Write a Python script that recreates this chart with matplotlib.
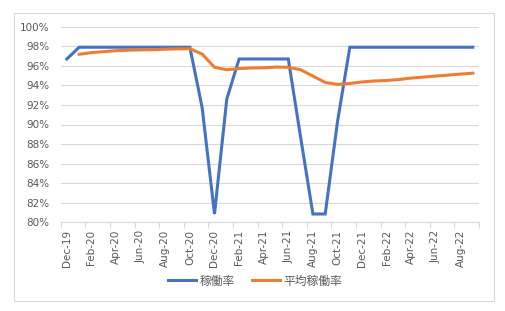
import matplotlib
matplotlib.use("Agg")
import matplotlib.pyplot as plt
import numpy as np
from matplotlib.patches import Rectangle

months = ["Dec-19", "Jan-20", "Feb-20", "Mar-20", "Apr-20", "May-20", "Jun-20", "Jul-20",
          "Aug-20", "Sep-20", "Oct-20", "Nov-20", "Dec-20", "Jan-21", "Feb-21", "Mar-21",
          "Apr-21", "May-21", "Jun-21", "Jul-21", "Aug-21", "Sep-21", "Oct-21", "Nov-21",
          "Dec-21", "Jan-22", "Feb-22", "Mar-22", "Apr-22", "May-22", "Jun-22", "Jul-22",
          "Aug-22", "Sep-22"]

rate = [96.7, 97.9, 97.9, 97.9, 97.9, 97.9, 97.9, 97.9, 97.9, 97.9, 97.9,
        91.7, 80.85, 92.6, 96.7, 96.7, 96.7, 96.7, 96.7, 88.7, 80.85, 80.85,
        90.3, 97.9, 97.9, 97.9, 97.9, 97.9, 97.9, 97.9, 97.9, 97.9, 97.9, 97.9]

avg_rate = [np.nan, 97.18, 97.35, 97.45, 97.55, 97.6, 97.63, 97.65, 97.7, 97.73, 97.75,
            97.2, 95.85, 95.6, 95.72, 95.78, 95.8, 95.87, 95.85, 95.6, 94.95, 94.3,
            94.1, 94.2, 94.35, 94.45, 94.5, 94.6, 94.75, 94.85, 94.95, 95.05, 95.15, 95.25]

series_names = ["稼働率", "平均稼働率"]

plt.rcParams['font.family'] = ['Noto Sans CJK JP', 'DejaVu Sans']

W, H = 505, 311
fig = plt.figure(figsize=(W / 100, H / 100), dpi=100)
fig.patches.append(Rectangle((14 / W, 1 - 301 / H), 480 / W, 288 / H, transform=fig.transFigure,
                             fill=False, edgecolor="#D9D9D9", linewidth=0.8))

ax = fig.add_axes([60.7 / W, 1 - 222.3 / H, (479 - 60.7) / W, (222.3 - 26.7) / H])

x = np.arange(len(months))
ax.plot(x, np.array(rate) / 100, color="#4472C4", linewidth=2.2, label=series_names[0],
        solid_joinstyle="miter", zorder=3)
ax.plot(x, np.array(avg_rate) / 100, color="#ED7D31", linewidth=2.2, label=series_names[1],
        solid_joinstyle="round", zorder=3)

ax.set_xlim(-0.5, len(months) - 0.5)
ax.set_ylim(0.80, 1.00)

yt = np.arange(80, 101, 2)
ax.set_yticks(yt / 100)
ax.set_yticklabels([f"{v}%" for v in yt])
ax.tick_params(axis="y", length=0, pad=8, labelsize=7.5, labelcolor="#595959")

ax.set_xticks(np.arange(-0.5, len(months), 2))
ax.set_xticklabels([])
ax.tick_params(axis="x", which="major", length=4, width=0.8, color="#D9D9D9", direction="out")
ax.set_xticks(x[::2], minor=True)
ax.set_xticklabels([months[i] for i in x[::2]], minor=True, rotation=90)
ax.tick_params(axis="x", which="minor", length=0, pad=5.5, labelsize=7.5, labelcolor="#595959")
for lbl in ax.get_xticklabels(minor=True):
    lbl.set_fontfamily(['DejaVu Sans'])
for lbl in ax.get_yticklabels():
    lbl.set_fontfamily(['DejaVu Sans'])

ax.grid(axis="y", color="#D9D9D9", linewidth=0.8)
ax.set_axisbelow(True)
for s in ["top", "right", "left"]:
    ax.spines[s].set_visible(False)
ax.spines["bottom"].set_color("#D9D9D9")
ax.spines["bottom"].set_linewidth(0.8)

leg = fig.legend(loc="center", bbox_to_anchor=(255 / W, 1 - 281 / H), ncol=2, frameon=False,
                 fontsize=8.5, handlelength=2.4, handletextpad=0.25, columnspacing=1.45)
for t in leg.get_texts():
    t.set_color("#595959")

fig.savefig("out.png", dpi=100)
